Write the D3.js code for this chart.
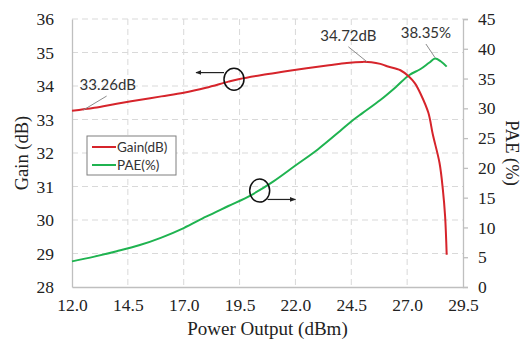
<!DOCTYPE html>
<html>
<head>
<meta charset="utf-8">
<script src="https://cdn.jsdelivr.net/npm/d3@7"></script>
<style>
  body { margin: 0; background: #fff; }
  svg { display: block; }
</style>
</head>
<body>
<div id="chart"></div>
<script>
// Gain curve (left axis)
const gainPower = [12.0, 13.0, 14.0, 15.0, 16.0, 17.0, 18.0, 19.0, 19.5, 20.5, 21.5, 22.5, 23.5, 24.3, 25.0, 25.4, 25.8, 26.1, 26.7, 27.1, 27.35, 27.6, 27.95, 28.15, 28.45, 28.6, 28.7, 28.77];
const gainValues = [33.26, 33.35, 33.47, 33.58, 33.69, 33.80, 33.95, 34.13, 34.21, 34.33, 34.43, 34.53, 34.62, 34.69, 34.72, 34.71, 34.66, 34.59, 34.47, 34.27, 34.08, 33.77, 33.20, 32.55, 31.70, 30.90, 30.10, 28.96];

// PAE curve (right axis)
const paePower = [12.0, 13.0, 14.0, 15.0, 16.0, 17.0, 18.0, 19.0, 20.0, 21.0, 22.0, 23.0, 24.0, 24.5, 25.0, 25.8, 26.5, 27.1, 27.6, 28.0, 28.25, 28.5, 28.77];
const paeValues = [4.3, 5.1, 6.0, 7.0, 8.3, 9.9, 11.8, 13.6, 15.4, 17.7, 20.4, 23.1, 26.2, 27.8, 29.2, 31.4, 33.6, 35.6, 36.6, 37.7, 38.35, 37.9, 37.0];

const xTicks = [12.0, 14.5, 17.0, 19.5, 22.0, 24.5, 27.0, 29.5];
const gainTicks = [28, 29, 30, 31, 32, 33, 34, 35, 36];
const paeTicks = [0, 5, 10, 15, 20, 25, 30, 35, 40, 45];
const seriesNames = ["Gain(dB)", "PAE(%)"];

const W = 529, H = 339;
const margin = { top: 19, right: 66, bottom: 52, left: 72 };
const width = W - margin.left - margin.right;
const height = H - margin.top - margin.bottom;

const red = "#d6242b", green = "#1fb350", grid = "#d9d9d9", axisCol = "#bfbfbf";
const serif = "'Liberation Serif', 'Times New Roman', serif";
const sans = "Lato, 'Open Sans', sans-serif";

const svg = d3.select("#chart").append("svg")
    .attr("width", W).attr("height", H);
const g = svg.append("g").attr("transform", `translate(${margin.left},${margin.top})`);

const x = d3.scaleLinear().domain([12, 29.5]).range([0, width]);
const yL = d3.scaleLinear().domain([28, 36]).range([height, 0]);
const yR = d3.scaleLinear().domain([0, 45]).range([height, 0]);

// gridlines
g.selectAll(".hgrid").data(gainTicks.filter(d => d > 28))
    .enter().append("line")
    .attr("x1", 0).attr("x2", width)
    .attr("y1", d => yL(d)).attr("y2", d => yL(d))
    .attr("stroke", grid).attr("stroke-width", 1).attr("stroke-dasharray", "6,4");
g.selectAll(".vgrid").data(xTicks.slice(1, -1))
    .enter().append("line")
    .attr("x1", d => x(d)).attr("x2", d => x(d))
    .attr("y1", 0).attr("y2", height)
    .attr("stroke", grid).attr("stroke-width", 1).attr("stroke-dasharray", "6,4");

// axes
const xAxis = g.append("g").attr("transform", `translate(0,${height})`)
    .call(d3.axisBottom(x).tickValues(xTicks).tickFormat(d3.format(".1f")).tickSize(0).tickPadding(12));
const leftAxis = g.append("g")
    .call(d3.axisLeft(yL).tickValues(gainTicks).tickSize(0).tickPadding(18));
const rightAxis = g.append("g").attr("transform", `translate(${width},0)`)
    .call(d3.axisRight(yR).tickValues(paeTicks).tickSize(5).tickPadding(10));

[xAxis, leftAxis, rightAxis].forEach(a => {
    a.select(".domain").attr("stroke", axisCol).attr("stroke-width", 1.3);
    a.selectAll(".tick line").attr("stroke", axisCol).attr("stroke-width", 1.3);
    a.selectAll(".tick text").attr("fill", "#222").style("font-family", serif).style("font-size", "17.5px");
});

// axis titles
svg.append("text")
    .attr("transform", `translate(28,${margin.top + height / 2}) rotate(-90)`)
    .attr("text-anchor", "middle")
    .style("font-family", serif).style("font-size", "18.5px").attr("fill", "#222")
    .text("Gain (dB)");
svg.append("text")
    .attr("transform", `translate(506,${margin.top + height / 2}) rotate(90)`)
    .attr("text-anchor", "middle")
    .style("font-family", serif).style("font-size", "18.5px").attr("fill", "#222")
    .text("PAE (%)");
svg.append("text")
    .attr("x", margin.left + width / 2).attr("y", 334.5)
    .attr("text-anchor", "middle")
    .style("font-family", serif).style("font-size", "19px").attr("fill", "#222")
    .text("Power Output (dBm)");

// curves
const gainLine = d3.line().x((d, i) => x(gainPower[i])).y(d => yL(d)).curve(d3.curveCatmullRom);
const paeLine = d3.line().x((d, i) => x(paePower[i])).y(d => yR(d)).curve(d3.curveMonotoneX);

g.append("path").datum(paeValues)
    .attr("d", paeLine).attr("fill", "none").attr("stroke", green).attr("stroke-width", 2);
g.append("path").datum(gainValues)
    .attr("d", gainLine).attr("fill", "none").attr("stroke", red).attr("stroke-width", 2);

// callouts
const callouts = [
    { text: "33.26dB", tx: 13.6, ty: 33.88, from: [13.55, 33.70], to: [12.5, 33.28], axis: yL },
    { text: "34.72dB", tx: 24.37, ty: 35.35, from: [24.37, 35.17], to: [25.19, 34.73], axis: yL },
    { text: "38.35%", tx: 27.84, ty: 41.76, from: [27.84, 40.8], to: [28.25, 38.5], axis: yR }
];
callouts.forEach(c => {
    g.append("line")
        .attr("x1", x(c.from[0])).attr("y1", c.axis(c.from[1]))
        .attr("x2", x(c.to[0])).attr("y2", c.axis(c.to[1]))
        .attr("stroke", "#8c8c8c").attr("stroke-width", 1);
    g.append("text")
        .attr("x", x(c.tx)).attr("y", c.axis(c.ty))
        .attr("text-anchor", "middle")
        .style("font-family", sans).style("font-size", "15px").attr("fill", "#333")
        .text(c.text);
});

// circle + arrow markers
svg.append("defs").append("marker")
    .attr("id", "arr").attr("viewBox", "0 0 10 10").attr("refX", 9).attr("refY", 5)
    .attr("markerWidth", 5).attr("markerHeight", 5).attr("orient", "auto")
    .append("path").attr("d", "M0,1 L10,5 L0,9 Z").attr("fill", "#222");

g.append("ellipse").attr("cx", x(19.25)).attr("cy", yL(34.2)).attr("rx", 10).attr("ry", 11)
    .attr("fill", "none").attr("stroke", "#111").attr("stroke-width", 1.5);
g.append("line").attr("x1", x(19.25) - 10).attr("y1", yL(34.4)).attr("x2", x(17.55)).attr("y2", yL(34.4))
    .attr("stroke", "#222").attr("stroke-width", 1.2).attr("marker-end", "url(#arr)");

g.append("ellipse").attr("cx", x(20.4)).attr("cy", yR(16.2)).attr("rx", 10).attr("ry", 11.5)
    .attr("fill", "none").attr("stroke", "#111").attr("stroke-width", 1.5);
g.append("line").attr("x1", x(20.75)).attr("y1", yR(14.7)).attr("x2", x(22.0)).attr("y2", yR(14.7))
    .attr("stroke", "#222").attr("stroke-width", 1.2).attr("marker-end", "url(#arr)");

// legend
const legend = svg.append("g").attr("transform", "translate(87,136)");
legend.append("rect").attr("width", 89).attr("height", 39)
    .attr("fill", "#fff").attr("stroke", "#7f7f7f").attr("stroke-width", 1);
legend.selectAll(".item").data(seriesNames).enter().append("g")
    .attr("transform", (d, i) => `translate(0,${11 + i * 18})`)
    .each(function(d, i) {
        const it = d3.select(this);
        it.append("line").attr("x1", 5).attr("x2", 29).attr("y1", 0).attr("y2", 0)
            .attr("stroke", i === 0 ? red : green).attr("stroke-width", 2);
        it.append("text").attr("x", 30).attr("y", 5)
            .style("font-family", sans).style("font-size", "13.5px").attr("fill", "#333")
            .text(d);
    });
</script>
</body>
</html>
